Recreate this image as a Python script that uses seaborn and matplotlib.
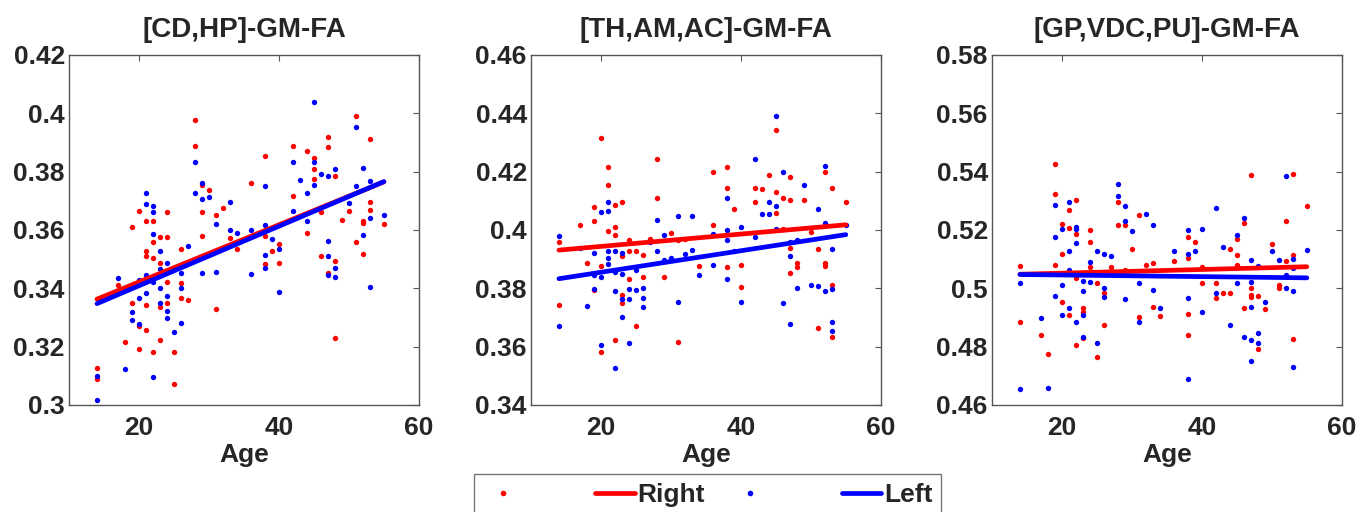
import numpy as np
import pandas as pd
import matplotlib
matplotlib.use("Agg")
import matplotlib.pyplot as plt
from matplotlib.lines import Line2D
from matplotlib.ticker import FormatStrFormatter
import seaborn as sns

# --- data (age, GM-FA) ---
# panel 1: [CD,HP]
cd_hp_right_age = [14, 14, 17, 18, 19, 19, 20, 20, 20, 21, 21, 21, 21, 21, 22, 22, 22, 22,
                   23, 23, 23, 23, 24, 24, 24, 24, 25, 25, 26, 26, 26, 27, 28, 28, 29, 29, 29,
                   30, 31, 31, 32, 33, 34, 36, 38, 38, 38, 39, 40, 40, 42, 42, 44, 44, 45, 45,
                   45, 46, 46, 47, 47, 47, 48, 48, 48, 49, 50, 51, 51, 52, 52, 52, 53, 53, 53, 55]
cd_hp_right_fa = [0.3128, 0.3088, 0.3411, 0.3217, 0.3611, 0.3351, 0.3666, 0.3269, 0.3191,
                  0.3629, 0.3526, 0.3511, 0.3341, 0.3257, 0.3629, 0.3560, 0.3505, 0.3183,
                  0.3575, 0.3488, 0.3337, 0.3223, 0.3663, 0.3575, 0.3423, 0.3349, 0.3182, 0.3071,
                  0.3534, 0.3417, 0.3366, 0.3360, 0.3977, 0.3886, 0.3663, 0.3580, 0.3754,
                  0.3737, 0.3651, 0.3328, 0.3674, 0.3571, 0.3534, 0.3760, 0.3854, 0.3580, 0.3483,
                  0.3529, 0.3552, 0.3488, 0.3888, 0.3717, 0.3871, 0.3591, 0.3846, 0.3808,
                  0.3774, 0.3660, 0.3509, 0.3918, 0.3883, 0.3451, 0.3783, 0.3495, 0.3229,
                  0.3634, 0.3666, 0.3989, 0.3558, 0.3632, 0.3625, 0.3518, 0.3911, 0.3694, 0.3669, 0.3621]
cd_hp_left_age = [14, 14, 17, 18, 19, 19, 20, 20, 20, 21, 21, 21, 21, 22, 22, 22, 22, 22,
                  23, 23, 23, 23, 24, 24, 24, 24, 25, 26, 26, 26, 27, 28, 28, 29, 29, 29, 30,
                  31, 31, 33, 33, 34, 36, 36, 38, 38, 38, 38, 39, 40, 40, 42, 42, 43, 44, 44,
                  45, 45, 45, 46, 47, 47, 47, 47, 48, 48, 48, 50, 51, 51, 52, 52, 53, 53, 53, 55]
cd_hp_left_fa = [0.3017, 0.3100, 0.3434, 0.3122, 0.3320, 0.3291, 0.3429, 0.3366, 0.3278,
                 0.3728, 0.3689, 0.3446, 0.3385, 0.3682, 0.3660, 0.3586, 0.3423, 0.3097,
                 0.3526, 0.3465, 0.3400, 0.3349, 0.3488, 0.3374, 0.3323, 0.3297, 0.3251,
                 0.3451, 0.3400, 0.3280, 0.3546, 0.3832, 0.3728, 0.3760, 0.3705, 0.3451, 0.3712,
                 0.3621, 0.3454, 0.3697, 0.3598, 0.3591, 0.3598, 0.3448, 0.3751, 0.3617, 0.3514,
                 0.3469, 0.3568, 0.3534, 0.3386, 0.3832, 0.3666, 0.3771, 0.3726, 0.3629,
                 0.4037, 0.3834, 0.3754, 0.3791, 0.3783, 0.3563, 0.3511, 0.3446, 0.3808, 0.3469,
                 0.3438, 0.3691, 0.3749, 0.3952, 0.3811, 0.3583, 0.3769, 0.3640, 0.3406, 0.3651]

# panel 2: [TH,AM,AC]
th_am_ac_right_age = [14, 14, 17, 18, 19, 19, 19, 20, 20, 20, 21, 21, 21, 22, 22, 22, 22,
                      23, 23, 23, 23, 24, 24, 24, 25, 25, 26, 26, 27, 28, 28, 29, 30, 31, 31, 32,
                      34, 36, 36, 38, 38, 38, 39, 40, 40, 42, 42, 43, 44, 45, 45, 45, 46, 46,
                      47, 47, 47, 47, 48, 48, 49, 50, 51, 51, 52, 52, 52, 53, 53, 53, 55]
th_am_ac_right_fa = [0.3960, 0.3743, 0.4017, 0.3888, 0.4080, 0.4029, 0.3794, 0.4314, 0.3877,
                     0.3581, 0.4215, 0.4154, 0.3997, 0.4086, 0.4011, 0.3983, 0.3623,
                     0.4097, 0.3909, 0.3777, 0.3749, 0.3966, 0.3926, 0.3831, 0.3926, 0.3669,
                     0.3914, 0.3840, 0.3968, 0.4242, 0.4109, 0.3838, 0.3991, 0.3617, 0.3966, 0.3968,
                     0.3877, 0.4197, 0.4017, 0.4214, 0.4143, 0.3872, 0.4071, 0.3880, 0.3806,
                     0.4143, 0.4097, 0.4140, 0.4189, 0.4343, 0.4131, 0.4057, 0.4109, 0.4002,
                     0.4181, 0.4101, 0.3937, 0.3851, 0.3886, 0.3874, 0.4101, 0.3994, 0.3934,
                     0.3663, 0.4197, 0.3886, 0.3877, 0.4143, 0.3811, 0.3634, 0.4094]
th_am_ac_left_age = [14, 14, 17, 18, 19, 19, 19, 20, 20, 20, 21, 21, 21, 21, 21, 22, 22, 22,
                     22, 23, 23, 23, 23, 24, 24, 24, 25, 25, 26, 26, 26, 27, 28, 28, 29, 29, 30,
                     31, 31, 32, 33, 33, 34, 36, 36, 38, 38, 38, 38, 39, 40, 40, 42, 42, 43, 44,
                     44, 45, 45, 45, 46, 46, 47, 47, 47, 48, 48, 49, 50, 51, 51, 52, 52, 52, 53,
                     53, 53, 53, 55]
th_am_ac_left_fa = [0.3980, 0.3669, 0.3937, 0.3739, 0.3922, 0.3846, 0.3797, 0.4060, 0.3838,
                    0.3606, 0.4095, 0.4066, 0.3929, 0.3903, 0.3883, 0.3929, 0.3857, 0.3792,
                    0.3526, 0.3920, 0.3849, 0.3762, 0.3703, 0.3797, 0.3762, 0.3614, 0.3863, 0.3794,
                    0.3800, 0.3766, 0.3737, 0.3957, 0.4034, 0.3926, 0.3983, 0.3897, 0.3903,
                    0.4048, 0.3754, 0.3918, 0.4046, 0.3931, 0.3846, 0.3985, 0.3880, 0.4109, 0.3998,
                    0.3966, 0.3833, 0.3929, 0.4009, 0.3754, 0.4242, 0.3975, 0.4055, 0.4094,
                    0.4055, 0.4391, 0.4082, 0.4002, 0.4200, 0.3749, 0.3957, 0.3909, 0.3678, 0.3966,
                    0.3800, 0.4154, 0.3811, 0.4071, 0.3808, 0.4219, 0.4025, 0.3792, 0.3934,
                    0.3797, 0.3683, 0.3655, 0.4017]

# panel 3: [GP,VDC,PU]
gp_vdc_pu_right_age = [14, 14, 17, 18, 19, 19, 19, 20, 20, 20, 21, 21, 21, 22, 22, 22, 22,
                       23, 23, 23, 24, 24, 24, 25, 25, 26, 26, 27, 28, 28, 29, 29, 30, 31, 31,
                       32, 33, 33, 34, 36, 38, 38, 38, 38, 39, 40, 40, 42, 42, 43, 44, 44, 45,
                       45, 45, 46, 46, 47, 47, 47, 47, 48, 48, 49, 50, 51, 51, 52, 52, 53, 53, 53, 55]
gp_vdc_pu_right_fa = [0.5077, 0.4886, 0.4840, 0.4775, 0.5425, 0.5322, 0.5080, 0.5219, 0.5117,
                      0.4954, 0.5268, 0.5205, 0.4909, 0.5303, 0.5186, 0.5034, 0.4806,
                      0.4931, 0.4920, 0.4829, 0.5198, 0.5157, 0.5072, 0.5017, 0.4763, 0.4983,
                      0.4874, 0.5072, 0.5294, 0.5217, 0.5217, 0.5063, 0.5134, 0.5251, 0.4903,
                      0.5080, 0.5088, 0.4935, 0.4906, 0.5094, 0.5177, 0.5103, 0.4912, 0.4840,
                      0.5160, 0.5072, 0.5019, 0.5019, 0.4966, 0.4985, 0.5134, 0.4985, 0.5168,
                      0.5114, 0.5080, 0.5225, 0.4934, 0.5389, 0.5000, 0.4977, 0.4969, 0.4974,
                      0.4791, 0.4928, 0.5152, 0.5011, 0.5000, 0.5229, 0.5095, 0.5392, 0.5114,
                      0.4825, 0.5283]
gp_vdc_pu_left_age = [14, 14, 17, 18, 19, 19, 19, 20, 20, 20, 21, 21, 21, 21, 22, 22, 22, 22,
                      23, 23, 23, 23, 24, 24, 25, 25, 26, 26, 26, 27, 28, 28, 29, 29, 29, 30, 31,
                      31, 32, 33, 33, 34, 36, 38, 38, 38, 38, 39, 40, 40, 42, 42, 43, 44, 45, 45,
                      46, 46, 47, 47, 47, 47, 47, 48, 48, 48, 49, 50, 51, 52, 52, 52, 53, 53, 53,
                      53, 55]
gp_vdc_pu_left_fa = [0.5017, 0.4654, 0.4897, 0.4657, 0.5286, 0.5177, 0.4974, 0.5202, 0.5011,
                     0.4909, 0.5297, 0.5126, 0.5061, 0.4931, 0.5211, 0.5202, 0.5154, 0.4886,
                     0.5026, 0.4989, 0.4909, 0.4834, 0.5091, 0.5023, 0.5129, 0.4811, 0.5117,
                     0.5000, 0.4969, 0.5110, 0.5358, 0.5317, 0.5283, 0.5229, 0.4963, 0.5197, 0.5019,
                     0.4886, 0.5254, 0.5217, 0.4994, 0.4931, 0.5129, 0.5199, 0.5118, 0.4966, 0.4688,
                     0.5126, 0.5202, 0.4917, 0.5274, 0.4985, 0.5143, 0.4874, 0.5182, 0.5019,
                     0.5240, 0.4832, 0.5097, 0.5023, 0.4937, 0.4821, 0.4752, 0.5077, 0.4848,
                     0.4814, 0.4954, 0.5129, 0.5097, 0.5383, 0.5046, 0.5000, 0.5099, 0.5069,
                     0.4989, 0.4729, 0.5131]

titles = ["[CD,HP]-GM-FA", "[TH,AM,AC]-GM-FA", "[GP,VDC,PU]-GM-FA"]
y_limits = [(0.30, 0.42), (0.34, 0.46), (0.46, 0.58)]
panels = [
    (cd_hp_right_age, cd_hp_right_fa, cd_hp_left_age, cd_hp_left_fa),
    (th_am_ac_right_age, th_am_ac_right_fa, th_am_ac_left_age, th_am_ac_left_fa),
    (gp_vdc_pu_right_age, gp_vdc_pu_right_fa, gp_vdc_pu_left_age, gp_vdc_pu_left_fa),
]

sns.set_style("white")
plt.rcParams["font.family"] = ["Liberation Sans", "DejaVu Sans"]
plt.rcParams["font.weight"] = "bold"

RED = "#ff0000"
BLUE = "#0000ff"
EDGE = "#555555"

fig = plt.figure(figsize=(13.72, 5.12), dpi=100)
lefts = [0.0503, 0.387, 0.723]

for i, (r_age, r_fa, l_age, l_fa) in enumerate(panels):
    ax = fig.add_axes([lefts[i], 0.209, 0.255, 0.684])
    right = pd.DataFrame({"Age": r_age, "FA": r_fa})
    left = pd.DataFrame({"Age": l_age, "FA": l_fa})

    sns.scatterplot(data=right, x="Age", y="FA", color=RED, s=15, linewidth=0, ax=ax)
    sns.scatterplot(data=left, x="Age", y="FA", color=BLUE, s=15, linewidth=0, ax=ax)
    sns.regplot(data=right, x="Age", y="FA", scatter=False, ci=None, truncate=True,
                color=RED, line_kws={"linewidth": 3.4}, ax=ax)
    sns.regplot(data=left, x="Age", y="FA", scatter=False, ci=None, truncate=True,
                color=BLUE, line_kws={"linewidth": 3.4}, ax=ax)

    ax.set_xlim(10, 60)
    ax.set_xticks([20, 40, 60])
    lo, hi = y_limits[i]
    ax.set_ylim(lo, hi)
    ax.set_yticks(np.linspace(lo, hi, 7))
    ax.yaxis.set_major_formatter(FormatStrFormatter("%g"))

    ax.set_title(titles[i], fontsize=20, fontweight="bold", pad=13)
    ax.set_xlabel("Age", fontsize=19, fontweight="bold", labelpad=2)
    ax.set_ylabel("")
    ax.tick_params(axis="both", direction="in", length=4, width=0.8, color=EDGE,
                   labelsize=19, top=True, right=True)
    ax.tick_params(axis="x", pad=8)
    ax.tick_params(axis="y", pad=3)
    for lab in ax.get_xticklabels() + ax.get_yticklabels():
        lab.set_fontweight("bold")
    for sp in ax.spines.values():
        sp.set_color(EDGE)
        sp.set_linewidth(1.0)

handles = [
    Line2D([], [], linestyle="none", marker="o", markersize=3, color=RED),
    Line2D([], [], color=RED, linewidth=3.4),
    Line2D([], [], linestyle="none", marker="o", markersize=3, color=BLUE),
    Line2D([], [], color=BLUE, linewidth=3.4),
]
labels = ["      ", "Right", "      ", "Left"]
fig.legend(handles, labels, loc="upper center", bbox_to_anchor=(0.516, 0.074), ncol=4,
           frameon=True, fancybox=False, edgecolor=EDGE, handlelength=1.5,
           handletextpad=0.1, columnspacing=0.95, borderpad=0.35, borderaxespad=0,
           prop={"weight": "bold", "size": 19})

fig.savefig("out.png", dpi=100)
